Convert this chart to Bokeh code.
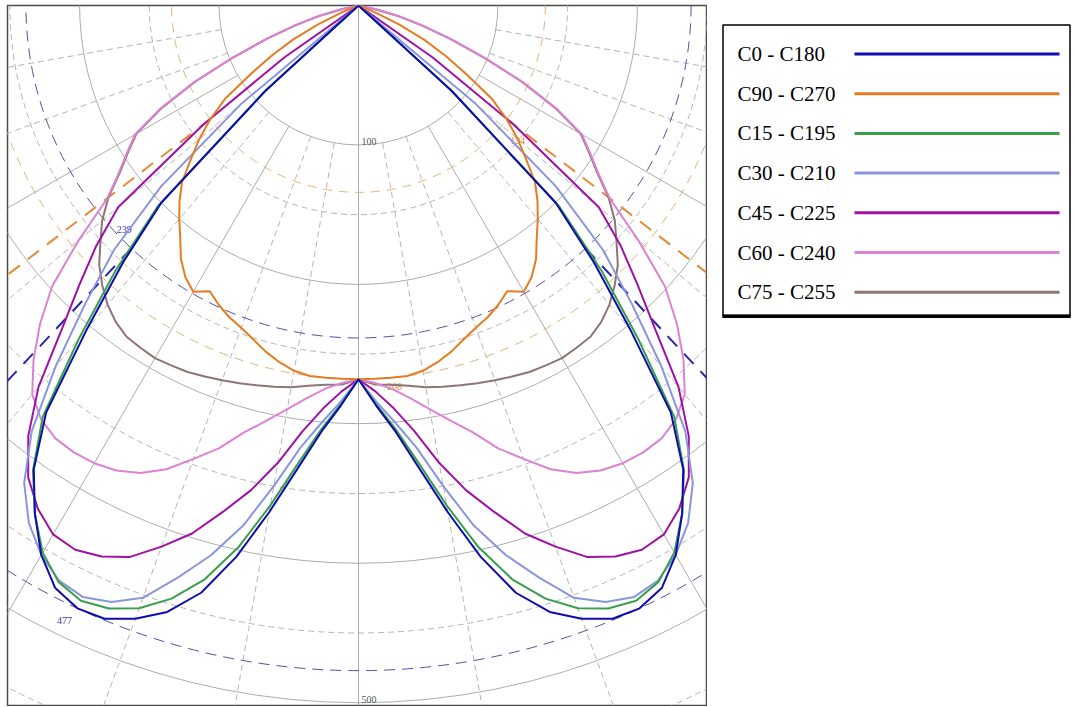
import numpy as np
from bokeh.plotting import figure
from bokeh.models import Range1d
from bokeh.layouts import row
from bokeh.embed import file_html
from bokeh.resources import INLINE
from bokeh.core.properties import value

# ---------------- data (cd per 1000 lm, gamma in degrees) ----------------
GAMMA = [0, 2.5, 5, 7.5, 10, 12.5, 15, 17.5, 20, 22.5, 25, 27.5, 30, 32.5, 35, 37.5,
         40, 42.5, 45, 47.5, 50, 52.5, 55, 57.5, 60, 62.5, 65, 67.5, 70, 72.5, 75,
         77.5, 80, 82.5, 85, 87.5, 90]

C0_C180 = [268, 287, 307, 335, 369, 405, 436, 456, 468, 476, 477, 471, 455, 432, 406, 368,
           303, 250, 200, 90, 0, 0, 0, 0, 0, 0, 0, 0, 0, 0, 0, 0, 0, 0, 0, 0, 0]
C90_C270 = [268, 268, 268, 268, 266, 262, 257, 251, 246, 242, 237, 231, 237, 231, 222, 210,
            200, 190, 179, 163, 149, 134, 117, 92, 72, 53, 32, 12, 0, 0, 0, 0, 0, 0, 0, 0, 0]
C15_C195 = [268, 286, 305, 331, 364, 398, 426, 446, 460, 468, 471, 466, 453, 432, 407, 372,
            312, 258, 203, 92, 0, 0, 0, 0, 0, 0, 0, 0, 0, 0, 0, 0, 0, 0, 0, 0, 0]
C30_C210 = [268, 284, 300, 320, 350, 382, 408, 430, 452, 463, 468, 465, 455, 440, 418, 385,
            338, 290, 248, 192, 110, 0, 0, 0, 0, 0, 0, 0, 0, 0, 0, 0, 0, 0, 0, 0, 0]
C45_C225 = [268, 277, 290, 308, 333, 356, 376, 397, 413, 428, 436, 440, 438, 428, 413, 389,
            357, 315, 283, 255, 225, 140, 65, 0, 0, 0, 0, 0, 0, 0, 0, 0, 0, 0, 0, 0, 0]
C60_C240 = [268, 271, 276, 284, 294, 305, 317, 333, 346, 360, 370, 376, 379, 380, 379, 374,
            364, 345, 323, 298, 262, 227, 210, 197, 185, 160, 130, 98, 71, 49, 31, 14, 0, 0, 0, 0, 0]
C75_C255 = [268, 272, 273, 275, 278, 280, 282, 284, 286, 288, 290, 291, 292, 291, 290, 286,
            280, 272, 263, 251, 240, 226, 209, 196, 184, 159, 129, 97, 70, 48, 30, 13, 0, 0, 0, 0, 0]

SERIES_NAMES = ["C0 - C180", "C90 - C270", "C15 - C195", "C30 - C210",
                "C45 - C225", "C60 - C240", "C75 - C255"]
SERIES_VALUES = [C0_C180, C90_C270, C15_C195, C30_C210, C45_C225, C60_C240, C75_C255]
SERIES_COLORS = ["#0c0cb0", "#e47c22", "#3a9e4c", "#8a96dc", "#a010a4", "#dc82d4", "#8e7474"]

RING_VALUES = [100, 200, 300, 400, 500, 600]
RING_DASHED = [150, 250, 350, 450, 550]
RING_LABELS = ["100", "500"]
RING_LABEL_VALUES = [100, 500]
ANGLES_SOLID = [30, 60]
ANGLES_DASHED = [10, 20, 40, 50, 70, 80]

C0_LABELS = ["477", "239"]     # max and half value of C0-C180
C90_LABELS = ["268", "134"]    # max and half value of C90-C270

# ---------------- helpers ----------------
g = np.radians(np.array(GAMMA, dtype=float))


def outline(vals):
    I = np.array(vals, dtype=float)
    xr = I * np.sin(g)
    yr = -I * np.cos(g)
    x = np.concatenate([-xr[::-1], xr[1:]])
    y = np.concatenate([yr[::-1], yr[1:]])
    return x, y


def half_angle(vals):
    I = np.array(vals, dtype=float)
    k = int(np.argmax(I))
    half = I[k] / 2.0
    for j in range(k + 1, len(I)):
        if I[j] <= half:
            a0, a1 = GAMMA[j - 1], GAMMA[j]
            i0, i1 = I[j - 1], I[j]
            return a0 + (a1 - a0) * (i0 - half) / (i0 - i1), I[k], half, GAMMA[k]
    return GAMMA[-1], I[k], half, GAMMA[k]


# ---------------- main polar figure ----------------
FW, FH = 699, 700          # frame size in px
TOP = 5
S = FH / 502.0             # px per cd
p = figure(width=7 + FW + 1, height=TOP + FH + 1, output_backend="svg", toolbar_location=None,
           title=None, x_range=Range1d(-351 / S, 348 / S), y_range=Range1d(-502, 0),
           x_axis_location=None, y_axis_location=None,
           min_border_left=7, min_border_top=TOP, min_border_right=1, min_border_bottom=1)
p.grid.visible = False
p.outline_line_color = "#4a4a4a"
p.outline_line_width = 1.5
p.background_fill_color = "white"

GRID = "#acacac"
p.circle(x=0, y=0, radius=RING_VALUES, fill_color=None, line_color=GRID, line_width=1)
p.circle(x=0, y=0, radius=RING_DASHED, fill_color=None, line_color="#b4b4b4",
         line_width=1, line_dash="6 4")

R0, R1 = 100, 1000
for angs, dash, col in ((ANGLES_SOLID, "solid", GRID), (ANGLES_DASHED, "6 4", "#b4b4b4")):
    a = np.radians(np.array(angs, dtype=float))
    xs0, ys0, xs1, ys1 = [], [], [], []
    for sgn in (-1, 1):
        xs0 += list(sgn * R0 * np.sin(a)); ys0 += list(-R0 * np.cos(a))
        xs1 += list(sgn * R1 * np.sin(a)); ys1 += list(-R1 * np.cos(a))
    p.segment(x0=xs0, y0=ys0, x1=xs1, y1=ys1, line_color=col, line_width=1, line_dash=dash)
p.segment(x0=[0], y0=[0], x1=[0], y1=[-R1], line_color=GRID, line_width=1)

# max / half circles and beam lines
b_ang, b_max, b_half, b_gmax = half_angle(C0_C180)
o_ang, o_max, o_half, o_gmax = half_angle(C90_C270)
p.circle(x=0, y=0, radius=[b_max, b_half], fill_color=None, line_color="#5050a6",
         line_width=1, line_dash="11 7")
p.circle(x=0, y=0, radius=[o_max, o_half], fill_color=None, line_color="#e2b27c",
         line_width=1, line_dash="9 7")
for ang, r0, col in ((b_ang, b_half, "#2626b0"), (o_ang, o_half, "#e58a36")):
    a = np.radians(ang)
    p.segment(x0=[-r0 * np.sin(a), r0 * np.sin(a)], y0=[-r0 * np.cos(a)] * 2,
              x1=[-R1 * np.sin(a), R1 * np.sin(a)], y1=[-R1 * np.cos(a)] * 2,
              line_color=col, line_width=2, line_dash="14 10")

# ring labels
p.text(x=[0] * len(RING_LABEL_VALUES), y=[-v for v in RING_LABEL_VALUES], text=RING_LABELS,
       x_offset=3, text_baseline="bottom", text_align="left",
       text_font=value("Liberation Serif"), text_font_size="10px", text_color="#555555")

# value labels
bm = np.radians(b_gmax)
ba = np.radians(b_ang)
p.text(x=[-b_max * np.sin(bm), -b_half * np.sin(ba)], y=[-b_max * np.cos(bm), -b_half * np.cos(ba)],
       text=C0_LABELS, x_offset=[-13, -7], y_offset=[12, -19], text_align="center",
       text_baseline="middle", text_font=value("Liberation Serif"), text_font_size="10px",
       text_color="#3a3aa8")
oa = np.radians(o_ang)
p.text(x=[0, o_half * np.sin(oa)], y=[-o_max, -o_half * np.cos(oa)],
       text=C90_LABELS, x_offset=[36, 11], y_offset=[7, 21], text_align="center",
       text_baseline="middle", text_font=value("Liberation Serif"), text_font_size="10px",
       text_color="#e48a34")

# curves
for name, vals, col in reversed(list(zip(SERIES_NAMES, SERIES_VALUES, SERIES_COLORS))):
    x, y = outline(vals)
    p.line(x, y, line_color=col, line_width=2)

# ---------------- legend figure (data units = page pixels) ----------------
# row() aligns this figure's frame with the main frame (page y from TOP to TOP+FH)
LW = 366
leg = figure(width=LW, height=TOP + FH + 1, output_backend="svg", toolbar_location=None,
             title=None, x_range=Range1d(707, 707 + LW), y_range=Range1d(TOP + FH, TOP),
             x_axis_location=None, y_axis_location=None,
             min_border_left=0, min_border_right=0, min_border_top=TOP, min_border_bottom=1)
leg.grid.visible = False
leg.outline_line_color = None
leg.background_fill_color = "white"
leg.quad(left=[722.5], right=[1069.5], top=[24.5], bottom=[315], fill_color="white",
         line_color="black", line_width=1.5)
leg.segment(x0=[721.8], y0=[315.8], x1=[1070.2], y1=[315.8], line_color="black", line_width=3.5)
rows = [53.5 + 39.7 * i for i in range(len(SERIES_NAMES))]
leg.text(x=[737] * len(rows), y=rows, text=SERIES_NAMES, text_baseline="middle",
         text_align="left", text_font=value("Liberation Serif"), text_font_size="21px",
         text_color="black")
leg.segment(x0=[854] * len(rows), y0=rows, x1=[1059] * len(rows), y1=rows,
            line_color=SERIES_COLORS, line_width=3)

layout = row(p, leg)
open("out.html", "w").write(file_html(layout, INLINE))
